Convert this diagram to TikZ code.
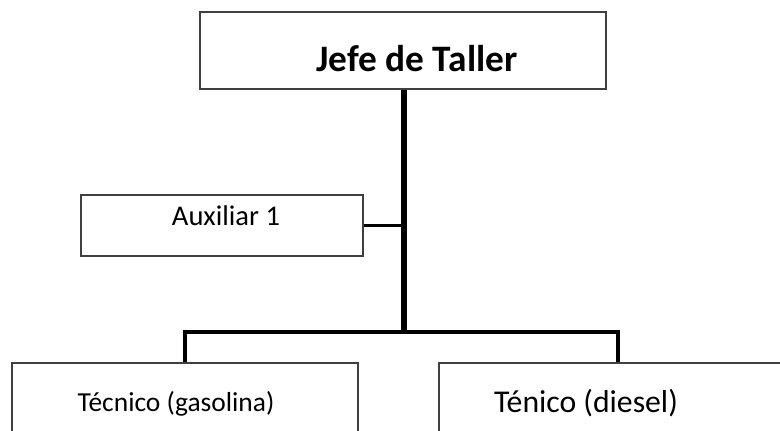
\documentclass[tikz,border=0pt]{standalone}
\usepackage{fontspec}
\setmainfont{Carlito}
\usetikzlibrary{shadows}

\tikzset{
	caja/.style={draw=black!75, line width=1.4pt, fill=white, rectangle, inner sep=0pt,
		drop shadow={opacity=0.18, shadow xshift=1pt, shadow yshift=-1pt}},
	texto/.style={anchor=base, inner sep=0pt, text=black},
	linea/.style={line width=3pt, black}
}

\begin{document}
\begin{tikzpicture}[x=0.75pt, y=-0.75pt]
	\useasboundingbox (0,0) rectangle (780,430);
	\clip (0,0) rectangle (780,430);
	% cajas
	\node[caja, minimum width=304.5pt, minimum height=57.75pt] (jefe) at (403,50.5) {};
	\node[caja, minimum width=211.5pt, minimum height=45.75pt] (aux) at (222,225.5) {};
	\node[caja, minimum width=259.5pt, minimum height=90pt, anchor=north] (gas) at (185,362) {};
	\node[caja, minimum width=268.5pt, minimum height=90pt, anchor=north] (die) at (618,362) {};
	% textos
	\node[texto, font=\fontsize{28}{32}\selectfont\bfseries] (jefeT) at (417,71) {Jefe de Taller};
	\node[texto, font=\fontsize{21.4}{25}\selectfont] (auxT) at (226,225) {Auxiliar 1};
	\node[texto, font=\fontsize{20.6}{24}\selectfont] (gasT) at (176,411) {Técnico (gasolina)};
	\node[texto, font=\fontsize{23.8}{27}\selectfont] (dieT) at (586,412) {Ténico (diesel)};
	% conexiones
	\coordinate (bus) at (404,332);
	\draw[line width=4.5pt] (jefe.south -| bus) -- (bus);
	\draw[line width=2.25pt] (aux.east) -- (aux.east -| bus);
	\draw[linea] (gas.north) |- (bus) -| (die.north);
\end{tikzpicture}
\end{document}
